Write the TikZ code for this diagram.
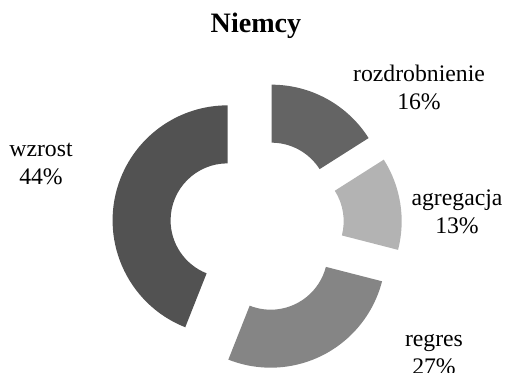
\documentclass[tikz,border=0pt]{standalone}
\usepackage{fontspec}
\setmainfont{Liberation Serif}
\begin{document}
\begin{tikzpicture}[
    scale=0.02,
    % Estilos de los sectores y textos
    rozdfill/.style={fill={rgb,255:red,100;green,100;blue,100}},
    agregfill/.style={fill={rgb,255:red,179;green,179;blue,179}},
    regresfill/.style={fill={rgb,255:red,133;green,133;blue,133}},
    wzrostfill/.style={fill={rgb,255:red,82;green,82;blue,82}},
    titulo/.style={font=\fontsize{16}{19}\selectfont\bfseries, text=black},
    etiqueta/.style={font=\fontsize{13.5}{16}\selectfont, text=black, align=center}
]
\useasboundingbox (0,0) rectangle (506,373);
\clip (0,0) rectangle (506,373);

% --- TITULO ---
\node[titulo] (title) at (256, 347) {Niemcy};

% --- SECTORES DEL ANILLO ---
\coordinate (center) at (257, 147);

\begin{scope}[shift={(center)}]
% rozdrobnienie 16%
\fill[rozdfill, shift={(61.2:30)}] (90:115) arc[start angle=90, end angle=32.4, radius=115]
    -- (32.4:57) arc[start angle=32.4, end angle=90, radius=57] -- cycle;
% agregacja 13%
\fill[agregfill, shift={(9:30)}] (32.4:115) arc[start angle=32.4, end angle=-14.4, radius=115]
    -- (-14.4:57) arc[start angle=-14.4, end angle=32.4, radius=57] -- cycle;
% regres 27%
\fill[regresfill, shift={(-63:30)}] (-14.4:115) arc[start angle=-14.4, end angle=-111.6, radius=115]
    -- (-111.6:57) arc[start angle=-111.6, end angle=-14.4, radius=57] -- cycle;
% wzrost 44%
\fill[wzrostfill, shift={(169.2:30)}] (248.4:115) arc[start angle=248.4, end angle=90, radius=115]
    -- (90:57) arc[start angle=90, end angle=248.4, radius=57] -- cycle;
\end{scope}

% --- ETIQUETAS ---
\node[etiqueta] (rozdtext) at (419, 286) {rozdrobnienie\\16\%};
\node[etiqueta] (agregtext) at (457, 161) {agregacja\\13\%};
\node[etiqueta] (regrestext) at (434, 18) {regres\\27\%};
\node[etiqueta] (wzrosttext) at (41, 209) {wzrost\\44\%};

\end{tikzpicture}
\end{document}
